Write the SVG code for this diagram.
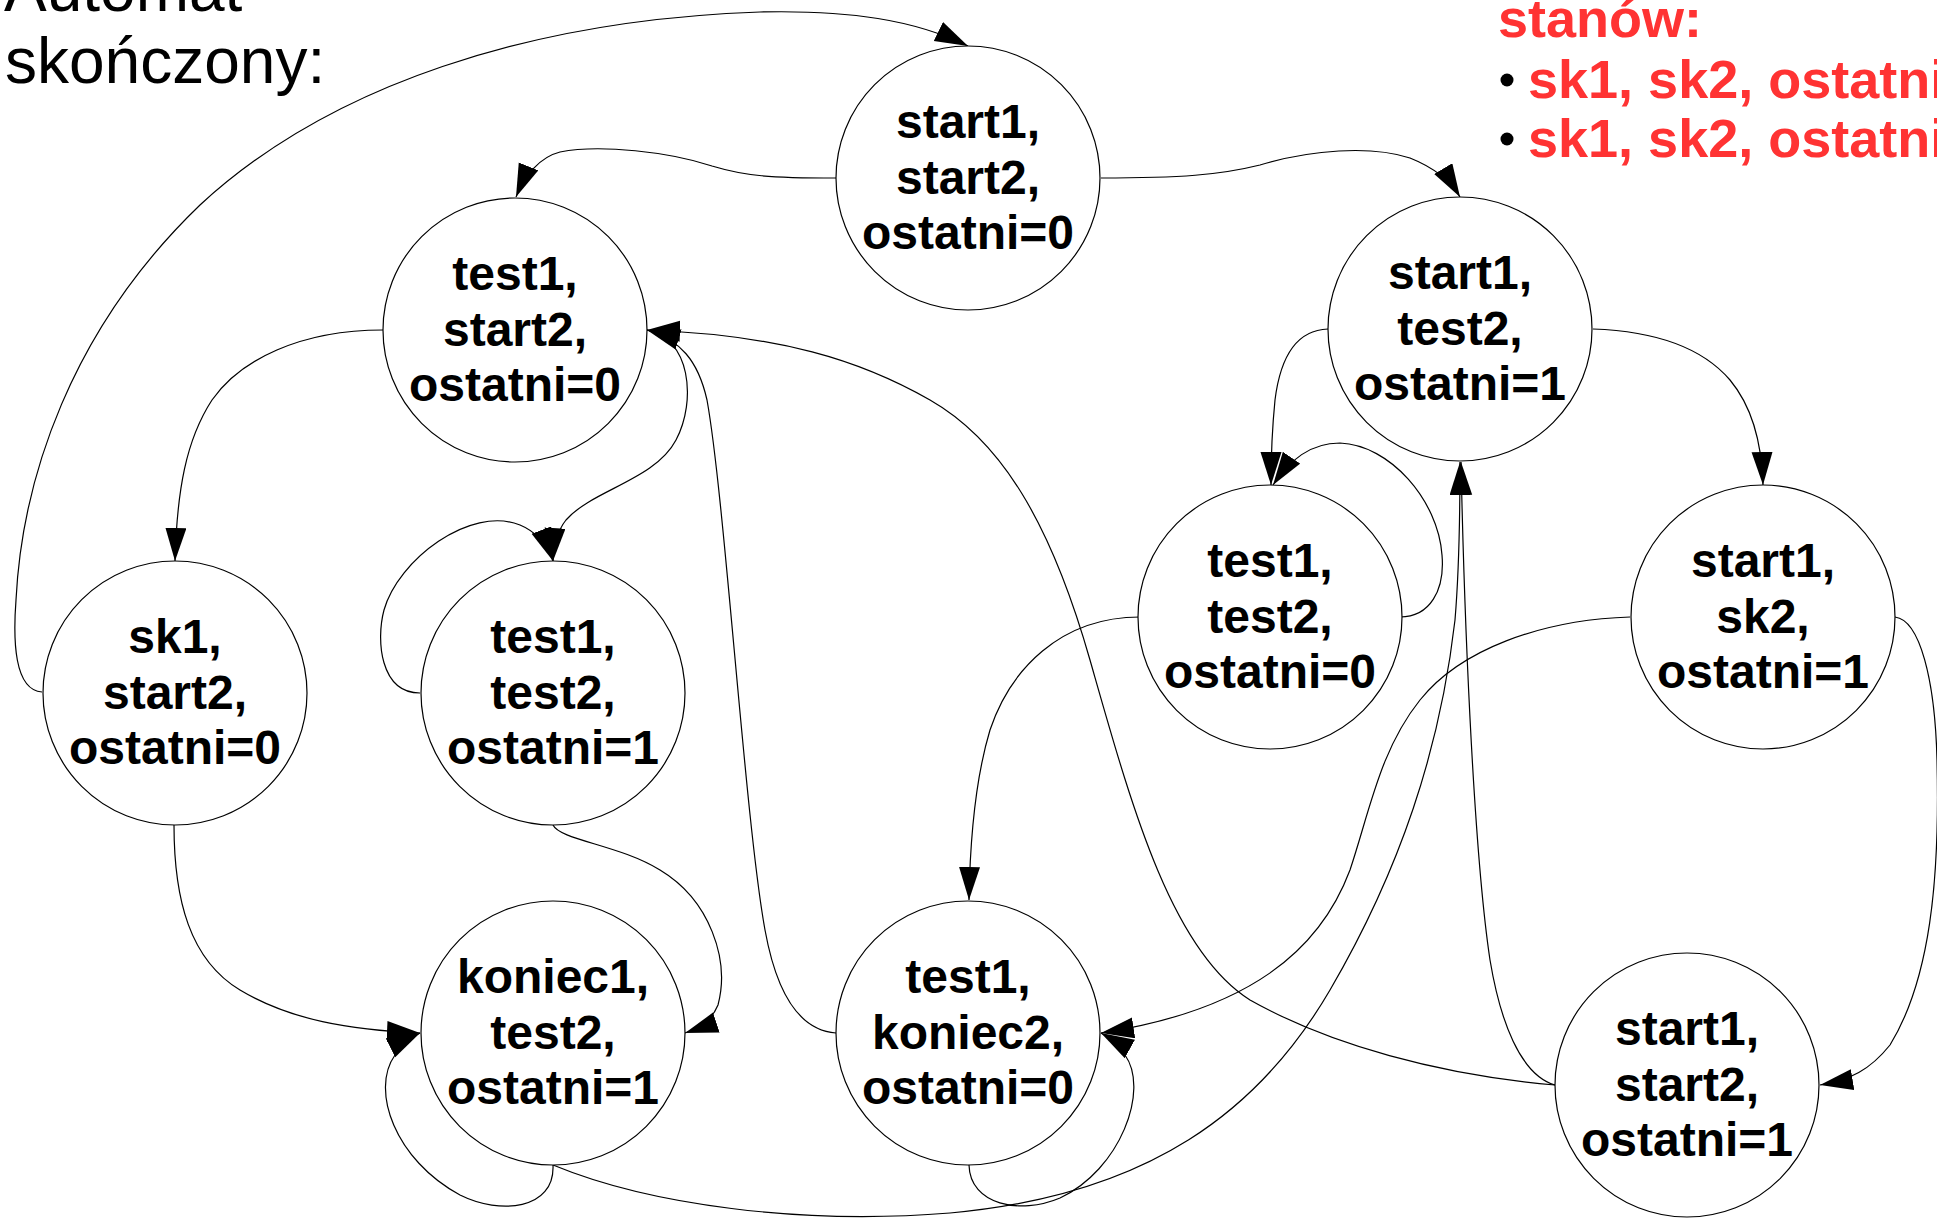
<svg xmlns="http://www.w3.org/2000/svg" width="1937" height="1220" viewBox="0 0 1937 1220">
  <style>
    .state circle { fill: #ffffff; stroke: #000000; stroke-width: 1.2; }
    .state text { font-family: "Liberation Sans", Arial, sans-serif; font-weight: bold; font-size: 48px; fill: #000000; text-anchor: middle; }
    .edges path { fill: none; stroke: #000000; stroke-width: 1.2; marker-end: url(#arrow); }
    .title { font-family: "Liberation Sans", Arial, sans-serif; font-size: 64px; fill: #000000; }
    .note { font-family: "Liberation Sans", Arial, sans-serif; font-weight: bold; font-size: 54px; fill: #ff3333; }
  </style>
  <defs>
    <marker id="arrow" markerUnits="userSpaceOnUse" markerWidth="34" markerHeight="22" refX="33" refY="10.5" orient="auto">
      <path d="M0,0 L33,10.5 L0,21 z" fill="#000000"/>
    </marker>
  </defs>

  <rect x="0" y="0" width="1937" height="1220" fill="#ffffff"/>

  <!-- heading -->
  <g id="heading">
    <text class="title" x="4" y="11">Automat</text>
    <text class="title" x="5" y="83">skończony:</text>
  </g>

  <!-- side note -->
  <g id="note">
    <text class="note" x="1498" y="37">stanów:</text>
    <circle cx="1507" cy="80" r="6.5" fill="#000000"/>
    <text class="note" x="1528" y="98">sk1, sk2, ostatni</text>
    <circle cx="1507" cy="139" r="6.5" fill="#000000"/>
    <text class="note" x="1528" y="157">sk1, sk2, ostatni</text>
  </g>

  <!-- transitions -->
  <g id="edges" class="edges">
    <!-- sk1,start2,0 -> start1,start2,0 -->
    <path d="M 42 692 C 14 690, 13 640, 16 600 C 22 480, 70 330, 200 205 C 330 85, 530 20, 760 12 C 850 10, 915 20, 968 46"/>
    <!-- start1,start2,0 -> test1,start2,0 -->
    <path d="M 836 178 C 770 178, 745 176, 712 166 C 670 152, 600 144, 560 152 C 540 157, 525 175, 516 197"/>
    <!-- start1,start2,0 -> start1,test2,1 -->
    <path d="M 1101 178 C 1180 178, 1220 175, 1260 165 C 1310 150, 1370 145, 1410 158 C 1435 168, 1450 180, 1460 197"/>
    <!-- test1,start2,0 -> sk1,start2,0 -->
    <path d="M 383 330 C 300 330, 240 360, 212 400 C 186 440, 177 490, 175 561"/>
    <!-- test1,start2,0 -> test1,test2,1 -->
    <path d="M 647 330 C 690 338, 697 400, 676 440 C 655 480, 592 490, 566 520 C 558 530, 554 545, 553 561"/>
    <!-- test1,test2,1 self loop -->
    <path d="M 420 693 C 380 693, 376 640, 384 610 C 398 560, 470 505, 520 525 C 537 532, 547 545, 553 561"/>
    <!-- sk1,start2,0 -> koniec1,test2,1 -->
    <path d="M 174 825 C 174 900, 190 960, 240 990 C 290 1020, 350 1030, 420 1033"/>
    <!-- koniec1,test2,1 self loop -->
    <path d="M 553 1165 C 555 1210, 500 1215, 460 1195 C 395 1160, 370 1090, 395 1055 C 402 1045, 410 1038, 420 1033"/>
    <!-- test1,test2,1 -> koniec1,test2,1 -->
    <path d="M 553 825 C 560 840, 620 845, 660 870 C 710 900, 730 960, 718 1005 C 712 1020, 700 1028, 685 1033"/>
    <!-- test1,koniec2,0 -> test1,start2,0 -->
    <path d="M 836 1033 C 795 1030, 775 985, 765 930 C 745 820, 725 500, 707 400 C 698 360, 680 340, 647 330"/>
    <!-- start1,start2,1 -> test1,start2,0 -->
    <path d="M 1555 1085 C 1440 1075, 1330 1045, 1250 1000 C 1170 950, 1130 800, 1090 660 C 1050 520, 1000 440, 930 400 C 860 360, 780 335, 647 330"/>
    <!-- start1,test2,1 -> test1,test2,0 -->
    <path d="M 1328 329 C 1295 330, 1280 360, 1275 400 C 1272 430, 1271 460, 1271 485"/>
    <!-- test1,test2,0 self loop -->
    <path d="M 1400 617 C 1430 617, 1445 590, 1442 555 C 1438 500, 1390 445, 1340 443 C 1310 443, 1290 460, 1273 485"/>
    <!-- start1,test2,1 -> start1,sk2,1 -->
    <path d="M 1593 329 C 1650 331, 1700 345, 1730 380 C 1755 410, 1762 450, 1763 485"/>
    <!-- start1,sk2,1 -> test1,koniec2,0 -->
    <path d="M 1630 617 C 1540 620, 1460 650, 1420 700 C 1380 750, 1370 810, 1350 870 C 1320 950, 1250 1010, 1101 1033"/>
    <!-- test1,koniec2,0 self loop -->
    <path d="M 969 1165 C 970 1205, 1020 1215, 1060 1198 C 1120 1170, 1150 1090, 1125 1055 C 1118 1045, 1110 1038, 1101 1033"/>
    <!-- koniec1,test2,1 -> start1,test2,1 -->
    <path d="M 553 1165 C 650 1205, 800 1225, 950 1213 C 1150 1195, 1260 1110, 1330 990 C 1400 870, 1440 750, 1455 620 C 1460 560, 1460 500, 1460 462"/>
    <!-- start1,start2,1 -> start1,test2,1 -->
    <path d="M 1555 1085 C 1520 1075, 1500 1020, 1490 960 C 1475 860, 1465 650, 1461 462"/>
    <!-- start1,sk2,1 -> start1,start2,1 -->
    <path d="M 1895 617 C 1920 620, 1935 680, 1937 760 C 1940 880, 1930 980, 1890 1045 C 1870 1070, 1850 1080, 1820 1085"/>
    <!-- test1,test2,0 -> test1,koniec2,0 -->
    <path d="M 1140 617 C 1060 617, 1010 670, 990 730 C 975 780, 970 840, 969 900"/>
  </g>

  <!-- states -->
  <g id="s-start1-start2-0" class="state">
    <circle cx="968" cy="178" r="132"/>
    <text x="968" y="138">start1,</text>
    <text x="968" y="194">start2,</text>
    <text x="968" y="249">ostatni=0</text>
  </g>
  <g id="s-test1-start2-0" class="state">
    <circle cx="515" cy="330" r="132"/>
    <text x="515" y="290">test1,</text>
    <text x="515" y="346">start2,</text>
    <text x="515" y="401">ostatni=0</text>
  </g>
  <g id="s-start1-test2-1" class="state">
    <circle cx="1460" cy="329" r="132"/>
    <text x="1460" y="289">start1,</text>
    <text x="1460" y="345">test2,</text>
    <text x="1460" y="400">ostatni=1</text>
  </g>
  <g id="s-sk1-start2-0" class="state">
    <circle cx="175" cy="693" r="132"/>
    <text x="175" y="653">sk1,</text>
    <text x="175" y="709">start2,</text>
    <text x="175" y="764">ostatni=0</text>
  </g>
  <g id="s-test1-test2-1" class="state">
    <circle cx="553" cy="693" r="132"/>
    <text x="553" y="653">test1,</text>
    <text x="553" y="709">test2,</text>
    <text x="553" y="764">ostatni=1</text>
  </g>
  <g id="s-test1-test2-0" class="state">
    <circle cx="1270" cy="617" r="132"/>
    <text x="1270" y="577">test1,</text>
    <text x="1270" y="633">test2,</text>
    <text x="1270" y="688">ostatni=0</text>
  </g>
  <g id="s-start1-sk2-1" class="state">
    <circle cx="1763" cy="617" r="132"/>
    <text x="1763" y="577">start1,</text>
    <text x="1763" y="633">sk2,</text>
    <text x="1763" y="688">ostatni=1</text>
  </g>
  <g id="s-koniec1-test2-1" class="state">
    <circle cx="553" cy="1033" r="132"/>
    <text x="553" y="993">koniec1,</text>
    <text x="553" y="1049">test2,</text>
    <text x="553" y="1104">ostatni=1</text>
  </g>
  <g id="s-test1-koniec2-0" class="state">
    <circle cx="968" cy="1033" r="132"/>
    <text x="968" y="993">test1,</text>
    <text x="968" y="1049">koniec2,</text>
    <text x="968" y="1104">ostatni=0</text>
  </g>
  <g id="s-start1-start2-1" class="state">
    <circle cx="1687" cy="1085" r="132"/>
    <text x="1687" y="1045">start1,</text>
    <text x="1687" y="1101">start2,</text>
    <text x="1687" y="1156">ostatni=1</text>
  </g>
</svg>
